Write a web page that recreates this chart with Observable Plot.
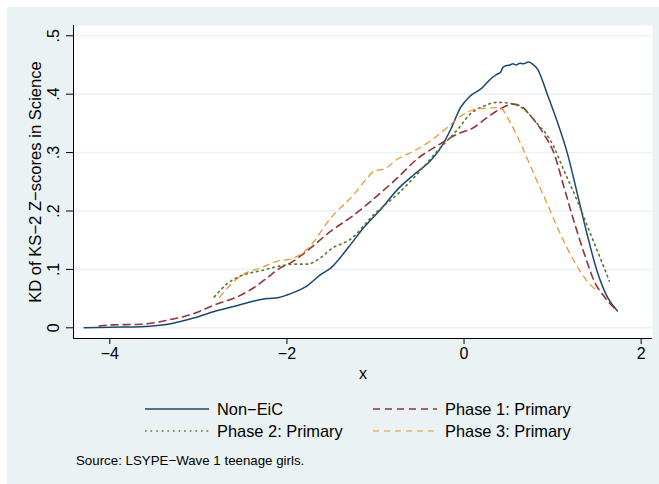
<!DOCTYPE html>
<html>
<head>
<meta charset="utf-8">
<script src="https://cdn.jsdelivr.net/npm/d3@7"></script>
<script src="https://cdn.jsdelivr.net/npm/@observablehq/plot@0.6"></script>
<style>
  html, body { margin: 0; padding: 0; background: #ffffff; }
  body { width: 659px; height: 484px; overflow: hidden; position: relative; font-family: "Liberation Sans", Arial, sans-serif; }
  #fig { position: absolute; left: 7px; top: 7px; width: 652px; height: 477px; background: #eaf2f3; }
  #chart svg { display: block; background: transparent; }
  .leg { position: absolute; height: 22px; display: flex; align-items: center; font-size: 16.4px; color: #000; white-space: nowrap; }
  .note { position: absolute; font-size: 13.3px; color: #000; white-space: nowrap; }
</style>
</head>
<body>
<div id="fig">
  <div id="chart"></div>
  <div id="legend"></div>
  <div class="note" id="note" style="left:69px; top:446px;"></div>
</div>
<script>
// ---- data ----
const seriesNames = ["Non\u2212EiC", "Phase 1: Primary", "Phase 2: Primary", "Phase 3: Primary"];
const seriesColors = ["#1a476f", "#90353b", "#55752f", "#e8922a"];

const nonEicX = [-4.29,-3.99,-3.65,-3.31,-3.05,-2.82,-2.59,-2.37,-2.22,-2.09,-1.95,-1.79,-1.62,-1.50,-1.31,-1.13,-0.94,-0.75,-0.56,-0.38,-0.26,-0.15,-0.04,0.07,0.19,0.30,0.37,0.41,0.44,0.48,0.52,0.55,0.59,0.63,0.67,0.73,0.77,0.83,0.94,1.05,1.17,1.28,1.39,1.50,1.62,1.73];
const nonEicY = [0,0.001,0.002,0.007,0.017,0.028,0.037,0.046,0.050,0.052,0.059,0.070,0.091,0.103,0.137,0.172,0.203,0.237,0.263,0.286,0.309,0.340,0.377,0.397,0.409,0.426,0.434,0.437,0.446,0.449,0.450,0.452,0.450,0.453,0.452,0.455,0.452,0.443,0.400,0.354,0.297,0.229,0.160,0.098,0.052,0.029];

const phase1X = [-4.12,-3.99,-3.65,-3.35,-3.08,-2.82,-2.52,-2.37,-2.22,-2.07,-1.95,-1.77,-1.50,-1.28,-1.05,-0.75,-0.53,-0.30,-0.07,0.11,0.26,0.40,0.55,0.64,0.75,0.90,1.02,1.13,1.24,1.36,1.47,1.59,1.73];
const phase1Y = [0.003,0.005,0.006,0.013,0.023,0.039,0.056,0.069,0.086,0.103,0.112,0.132,0.166,0.189,0.217,0.257,0.289,0.312,0.332,0.343,0.360,0.374,0.383,0.380,0.363,0.332,0.297,0.240,0.183,0.126,0.080,0.052,0.029];

const phase2X = [-2.82,-2.67,-2.52,-2.29,-2.07,-1.92,-1.77,-1.62,-1.50,-1.28,-1.01,-0.75,-0.53,-0.30,-0.07,0.07,0.23,0.38,0.53,0.68,0.83,0.98,1.13,1.28,1.43,1.55,1.64];
const phase2Y = [0.053,0.076,0.089,0.098,0.106,0.109,0.109,0.120,0.135,0.152,0.195,0.229,0.263,0.303,0.340,0.366,0.380,0.386,0.384,0.374,0.349,0.320,0.269,0.217,0.160,0.115,0.080];

const phase3X = [-2.76,-2.63,-2.52,-2.29,-2.11,-1.95,-1.77,-1.50,-1.24,-1.09,-1.01,-0.90,-0.75,-0.56,-0.38,-0.19,0.00,0.15,0.26,0.40,0.53,0.64,0.79,0.94,1.09,1.24,1.39,1.50];
const phase3Y = [0.052,0.075,0.089,0.103,0.114,0.118,0.135,0.189,0.229,0.257,0.269,0.272,0.289,0.303,0.320,0.343,0.366,0.375,0.376,0.377,0.349,0.315,0.263,0.212,0.160,0.115,0.080,0.064];

const xTicks = [-4, -2, 0, 2];
const xTickLabels = ["\u22124", "\u22122", "0", "2"];
const yTicks = [0, 0.1, 0.2, 0.3, 0.4, 0.5];
const yTickLabels = ["0", ".1", ".2", ".3", ".4", ".5"];
const yTitle = "KD of KS\u22122 Z\u2212scores in Science";
const xTitle = "x";
const noteText = "Source: LSYPE\u2212Wave 1 teenage girls.";

// ---- build ----
const xDomain = [-4.41, 2.128];
const yDomain = [-0.0183, 0.5176];
const dashes = [null, "7,5", "1.6,4", "6,5"];
const widths = [1.5, 1.6, 1.6, 1.2];

const allX = [nonEicX, phase1X, phase2X, phase3X];
const allY = [nonEicY, phase1Y, phase2Y, phase3Y];
const seriesData = allX.map((xs, k) => xs.map((x, i) => ({x, y: allY[k][i], s: seriesNames[k]})));

const lineMarks = seriesData.map((d, k) => Plot.line(d, {
  x: "x", y: "y", stroke: seriesColors[k], strokeWidth: widths[k],
  strokeDasharray: dashes[k] || undefined, curve: "monotone-x"
}));

const fontFamily = '"Liberation Sans", Arial, sans-serif';

const chart = Plot.plot({
  width: 652,
  height: 381,
  marginLeft: 66,
  marginRight: 7,
  marginTop: 18,
  marginBottom: 50,
  style: {background: "transparent", fontFamily, fontSize: "16px", color: "#000"},
  x: {domain: xDomain, label: null},
  y: {domain: yDomain, label: null},
  marks: [
    Plot.frame({fill: "white", stroke: "none"}),
    Plot.gridY(yTicks, {stroke: "#eaf2f3", strokeOpacity: 1, strokeWidth: 1.5}),
    ...lineMarks,
    Plot.ruleX([xDomain[0]], {stroke: "#000", strokeWidth: 1}),
    Plot.ruleY([yDomain[0]], {stroke: "#000", strokeWidth: 1}),
    Plot.axisX(xTicks, {tickSize: 6, tickPadding: 3, tickFormat: d => xTickLabels[xTicks.indexOf(d)], label: null, fontSize: 16}),
    Plot.axisY(yTicks, {tickSize: 7, tickFormat: () => "", label: null}),
    Plot.text(yTicks, {frameAnchor: "left", y: d => d, text: d => yTickLabels[yTicks.indexOf(d)], rotate: -90, dx: -20, textAnchor: "middle", lineAnchor: "middle", fontSize: 16}),
    Plot.text([yTitle], {frameAnchor: "left", dx: -38, rotate: -90, textAnchor: "middle", lineAnchor: "middle", fontSize: 16.6}),
    Plot.text([xTitle], {frameAnchor: "bottom", dy: 35, textAnchor: "middle", lineAnchor: "middle", fontSize: 16})
  ]
});
document.getElementById("chart").appendChild(chart);

// ---- legend (HTML below the SVG) ----
const legPos = [
  {left: 138, top: 391},
  {left: 366, top: 391},
  {left: 138, top: 413},
  {left: 366, top: 413}
];
const legend = document.getElementById("legend");
seriesNames.forEach((name, k) => {
  const div = document.createElement("div");
  div.className = "leg";
  div.style.left = legPos[k].left + "px";
  div.style.top = legPos[k].top + "px";
  const ns = "http://www.w3.org/2000/svg";
  const svg = document.createElementNS(ns, "svg");
  svg.setAttribute("width", "64");
  svg.setAttribute("height", "22");
  svg.style.display = "block";
  const ln = document.createElementNS(ns, "line");
  ln.setAttribute("x1", 0); ln.setAttribute("x2", 64);
  ln.setAttribute("y1", 11); ln.setAttribute("y2", 11);
  ln.setAttribute("stroke", seriesColors[k]);
  ln.setAttribute("stroke-width", widths[k]);
  if (dashes[k]) ln.setAttribute("stroke-dasharray", dashes[k]);
  svg.appendChild(ln);
  div.appendChild(svg);
  const sp = document.createElement("span");
  sp.textContent = name;
  sp.style.marginLeft = "8px";
  div.appendChild(sp);
  legend.appendChild(div);
});
document.getElementById("note").textContent = noteText;
</script>
</body>
</html>
